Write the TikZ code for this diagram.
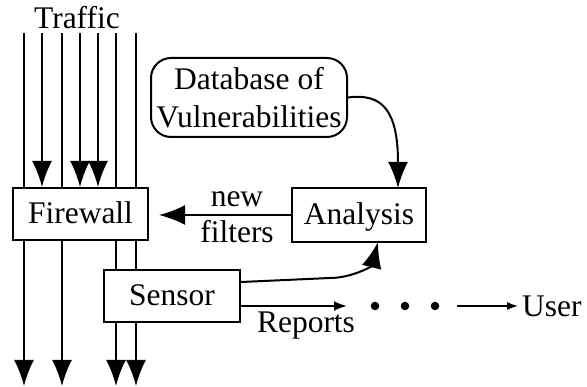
\documentclass[tikz,border=0pt]{standalone}
\usepackage{fontspec}
\setmainfont{Liberation Serif}
\usetikzlibrary{arrows.meta,backgrounds}
\begin{document}
\begin{tikzpicture}[x=1pt,y=-1pt,
  font=\fontsize{31.5}{38}\selectfont,
  box/.style={draw,line width=2pt,fill=white,inner sep=0pt,
    text height=20pt,text depth=0pt},
  flow/.style={line width=2pt},
  bigtip/.style={-{Latex[length=26pt,width=20pt]}},
  smalltip/.style={-{Latex[length=13pt,width=10pt]}},
  thintip/.style={-{Latex[length=11pt,width=8pt]}},
  lbl/.style={inner sep=0pt,anchor=base},
  dot/.style={circle,fill=black,inner sep=0pt,minimum size=8.5pt}
]
\useasboundingbox (0,0) rectangle (587,387);

% main blocks
\node[box,minimum width=135pt,minimum height=52pt] (fw) at (80.5,214) {Firewall};
\node[box,minimum width=136pt,minimum height=52pt] (sensor) at (172,296) {Sensor};
\node[box,minimum width=134pt,minimum height=54pt] (analysis) at (359,215) {Analysis};
\node[draw,line width=2pt,fill=white,rounded corners=20pt,inner sep=0pt,
      minimum width=196pt,minimum height=79pt,align=center] (db) at (249,97.5)
      {Database of\\Vulnerabilities};

% labels
\node[lbl] (traffic) at (77,29) {Traffic};
\node[lbl] (new) at (237,207) {new};
\node[lbl] (filters) at (237,243) {filters};
\node[lbl] (reports) at (306,333) {Reports};
\node[lbl,anchor=base west] (user) at (522,317) {User};

% traffic entering at the top and leaving at the bottom
\foreach \n/\x in {1/24,2/42,3/62,4/80,5/98,6/116,7/136}
  \coordinate (t\n) at (\x,33);
\foreach \n/\x in {1/24,3/62,6/116,7/136}
  \coordinate (b\n) at (\x,386);

% report chain
\coordinate (rep) at (347,306);
\node[dot] (d1) at (375,306) {};
\node[dot] (d2) at (405,306) {};
\node[dot] (d3) at (435,306) {};
\coordinate (ustart) at (457,306);
\coordinate (uend) at (518,306);

\begin{scope}[on background layer]
  \foreach \n in {1,3,6,7}
    \draw[flow,bigtip] (t\n) -- (b\n);
  \foreach \n in {2,4,5}
    \draw[flow,bigtip] (t\n) -- (t\n |- fw.north);
\end{scope}

% control connectors
\draw[flow,bigtip,shorten >=10pt] (analysis.west) -- (analysis.west -| fw.east);
\draw[flow,bigtip] (db.east) .. controls (382,93) and (398,110) .. (398,188);
\draw[flow,bigtip] ([yshift=14pt]sensor.east) -- (330,278)
  .. controls (352,278) and (372,266) .. (378,242);
\draw[flow,smalltip] ([yshift=-10pt]sensor.east) -- (rep);
\draw[line width=1.3pt,thintip] (ustart) -- (uend);
\end{tikzpicture}
\end{document}
